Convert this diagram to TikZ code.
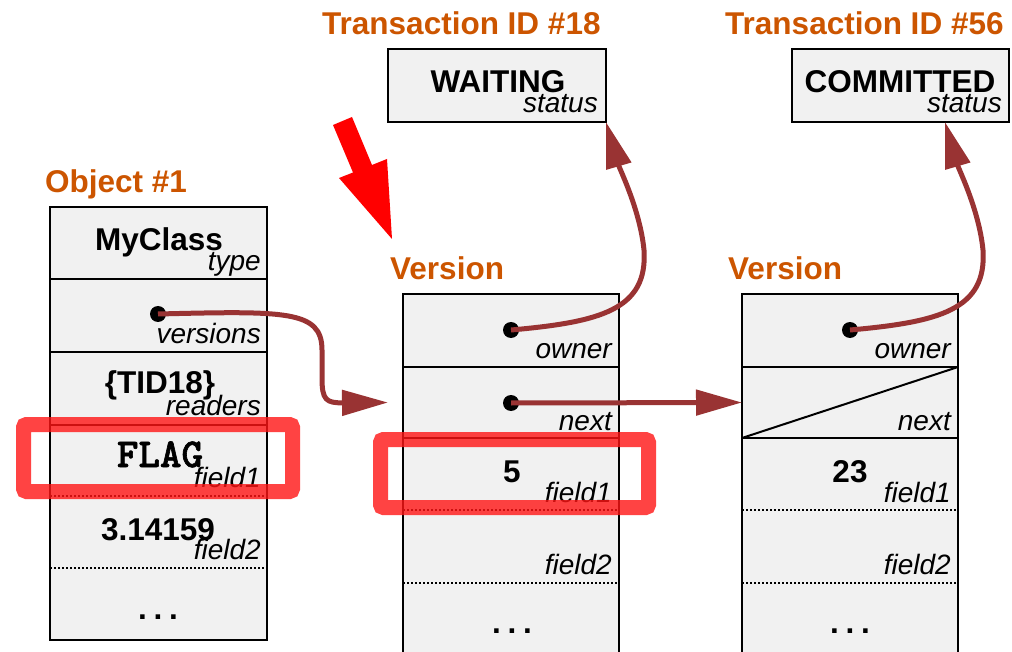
\documentclass[tikz,border=0pt]{standalone}
\usepackage{fontspec}
\setmainfont{Liberation Sans}
\newfontfamily\flagfont{lmmonolt10-bold.otf}[FakeBold=1.5]
\usetikzlibrary{arrows.meta}
\definecolor{boxgray}{RGB}{241,241,241}
\definecolor{titleorange}{RGB}{204,85,0}
\definecolor{connred}{RGB}{153,51,51}
\definecolor{hlred}{RGB}{255,20,20}
\definecolor{bigred}{RGB}{255,0,0}
\newcommand{\myvalfont}{\fontsize{31.5}{36}\selectfont\bfseries}
\newcommand{\mylabfont}{\fontsize{28}{32}\selectfont\itshape}
\newcommand{\myttlfont}{\fontsize{31.5}{36}\selectfont\bfseries}
\newcommand{\mydots}{.\hspace{6.7pt}.\hspace{6.7pt}.}
\begin{document}
\begin{tikzpicture}[x=1pt,y=-1pt,
  cell/.style={fill=boxgray, draw=none, inner sep=0pt, outer sep=0pt, anchor=north west, minimum width=217pt},
  vcell/.style={cell, minimum width=216pt},
  frame/.style={draw=black, line width=2pt},
  sep/.style={draw=black, line width=2pt},
  dsep/.style={draw=black, line width=2pt, dash pattern=on 2pt off 2pt},
  val/.style={font=\myvalfont, anchor=base, inner sep=0pt},
  flagval/.style={font=\fontsize{41}{44}\selectfont\flagfont, anchor=base, inner sep=0pt},
  lab/.style={font=\mylabfont, anchor=base east, inner sep=0pt},
  ttl/.style={font=\myttlfont, text=titleorange, anchor=base west, inner sep=0pt},
  ptr/.style={circle, fill=black, minimum size=16pt, inner sep=0pt},
  conn/.style={draw=connred, line width=5pt, -{Triangle[length=46pt,width=25pt]}},
  hl/.style={draw=hlred, line width=15pt, rounded corners=3pt, draw opacity=0.8},
]
\useasboundingbox (0,0) rectangle (1012,652);
\clip (0,0) rectangle (1012,652);

% ---------- Object #1 ----------
\node[ttl] (tobj) at (45,193) {Object \#1};
\node[cell, minimum height=72pt] (otype) at (50,207) {};
\node[cell, minimum height=73pt] (over) at (otype.south west) {};
\node[cell, minimum height=73pt] (oread) at (over.south west) {};
\node[cell, minimum height=71pt] (of1) at (oread.south west) {};
\node[cell, minimum height=72pt] (of2) at (of1.south west) {};
\node[cell, minimum height=72pt] (odots) at (of2.south west) {};
\draw[sep] (otype.south west) -- (otype.south east);
\draw[sep] (over.south west) -- (over.south east);
\draw[sep] (oread.south west) -- (oread.south east);
\draw[dsep] (of1.south west) -- (of1.south east);
\draw[dsep] (of2.south west) -- (of2.south east);
\draw[frame] (otype.north west) rectangle (odots.south east);
\node[val] (vmy) at (159,251) {MyClass};
\node[lab] (ltype) at (261,271) {type};
\node[lab] (lver) at (261,343) {versions};
\node[val] (vtid) at (160,393) {\{TID18\}};
\node[lab] (lread) at (261,415) {readers};
\node[flagval] (vflag) at (160,467) {FLAG};
\node[lab] (lof1) at (261,487) {field1};
\node[val] (vpi) at (158,540) {3.14159};
\node[lab] (lof2) at (261,559) {field2};
\node[val] (vodots) at (158,619) {\mydots};

% ---------- Transactions ----------
\node[ttl] (tt18) at (322,35) {Transaction ID \#18};
\node[ttl] (tt56) at (725,35) {Transaction ID \#56};
\node[cell, minimum width=218pt, minimum height=73pt] (t18) at (388,49) {};
\draw[frame] (t18.north west) rectangle (t18.south east);
\node[val] (vwait) at (498,93) {WAITING};
\node[lab] (lst18) at (598,113) {status};
\node[cell, minimum width=217pt, minimum height=73pt] (t56) at (792,49) {};
\draw[frame] (t56.north west) rectangle (t56.south east);
\node[val] (vcomm) at (900,93) {COMMITTED};
\node[lab] (lst56) at (1002,113) {status};
\coordinate (t56in) at (945,122);

% ---------- Version 1 ----------
\node[ttl] (tv1) at (390,280) {Version};
\node[vcell, minimum height=73pt] (v1own) at (403,294) {};
\node[vcell, minimum height=71pt] (v1next) at (v1own.south west) {};
\node[vcell, minimum height=72pt] (v1f1) at (v1next.south west) {};
\node[vcell, minimum height=73pt] (v1f2) at (v1f1.south west) {};
\node[vcell, minimum height=80pt] (v1dots) at (v1f2.south west) {};
\draw[sep] (v1own.south west) -- (v1own.south east);
\draw[sep] (v1next.south west) -- (v1next.south east);
\draw[dsep] (v1f1.south west) -- (v1f1.south east);
\draw[dsep] (v1f2.south west) -- (v1f2.south east);
\draw[frame] (v1own.north west) rectangle (v1dots.south east);
\node[lab] (lv1own) at (612,358) {owner};
\node[lab] (lv1next) at (612,430) {next};
\node[val] (vfive) at (512,482) {5};
\node[lab] (lv1f1) at (612,502) {field1};
\node[lab] (lv1f2) at (612,574) {field2};
\node[val] (vv1dots) at (512,633) {\mydots};
\coordinate (v1in) at ([xshift=-15pt]v1next.west);

% ---------- Version 2 ----------
\node[ttl] (tv2) at (728,280) {Version};
\node[vcell, minimum height=73pt] (v2own) at (742,294) {};
\node[vcell, minimum height=71pt] (v2next) at (v2own.south west) {};
\node[vcell, minimum height=72pt] (v2f1) at (v2next.south west) {};
\node[vcell, minimum height=73pt] (v2f2) at (v2f1.south west) {};
\node[vcell, minimum height=80pt] (v2dots) at (v2f2.south west) {};
\draw[sep] (v2own.south west) -- (v2own.south east);
\draw[sep] (v2next.south west) -- (v2next.south east);
\draw[dsep] (v2f1.south west) -- (v2f1.south east);
\draw[dsep] (v2f2.south west) -- (v2f2.south east);
\draw[frame] (v2own.north west) rectangle (v2dots.south east);
\draw[line width=2pt] (v2next.south west) -- (v2next.north east);
\node[lab] (lv2own) at (951,358) {owner};
\node[lab] (lv2next) at (951,430) {next};
\node[val] (vtt) at (850,482) {23};
\node[lab] (lv2f1) at (951,502) {field1};
\node[lab] (lv2f2) at (951,574) {field2};
\node[val] (vv2dots) at (850,633) {\mydots};

% ---------- highlights ----------
\draw[hl] (23.5,424.5) rectangle (292.5,491.5);
\draw[hl] (380.5,439.5) rectangle (648.5,507.5);

% ---------- big red arrow ----------
\fill[bigred] (333,125) -- (352,117) -- (372,165) -- (387,159) -- (392,239) -- (339,178) -- (353,172.5) -- cycle;

% ---------- pointers ----------
\node[ptr] (pver) at (158,314) {};
\node[ptr] (p1own) at (511,330) {};
\node[ptr] (p1next) at (511,403) {};
\node[ptr] (p2own) at (850,330) {};

\draw[conn] (pver.center) .. controls (285,311) and (322,310) .. (322,350) -- (322,378) .. controls (322,400) and (326,403) .. (v1in);
\draw[conn] (p1next.center) -- (v2next.west);
\draw[conn] (p1own.center) .. controls (600,322) and (648,310) .. (644,250) .. controls (640,210) and (620,170) .. (t18.south east);
\draw[conn] (p2own.center) .. controls (939,322) and (987,310) .. (983,250) .. controls (979,210) and (959,170) .. (t56in);
\end{tikzpicture}
\end{document}
